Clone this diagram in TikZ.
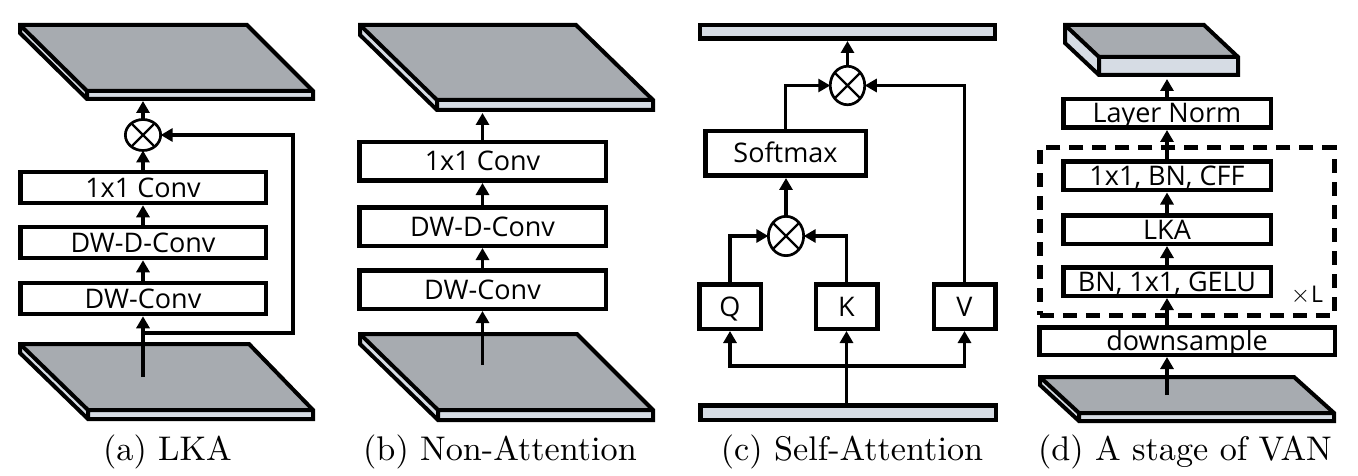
\documentclass[tikz,border=0pt]{standalone}
\usepackage{fontspec}
\usetikzlibrary{arrows.meta,shapes.geometric}
\newfontfamily\boxfont{Open Sans}
\definecolor{topc}{RGB}{167,171,176}
\definecolor{sidec}{RGB}{214,220,228}
\newcommand\slab[7]{%
 \fill[topc] (#1,#5) -- (#2,#5) -- (#3,#6) -- (#4,#6) -- cycle;
 \fill[sidec] (#1,#5) -- (#4,#6) -- (#4,{#6+#7}) -- (#1,{#5+#7}) -- cycle;
 \fill[sidec] (#4,#6) -- (#3,#6) -- (#3,{#6+#7}) -- (#4,{#6+#7}) -- cycle;
 \draw[slabline] (#1,#5) -- (#2,#5) -- (#3,#6) -- (#3,{#6+#7}) -- (#4,{#6+#7}) -- (#1,{#5+#7}) -- cycle;
 \draw[slabline] (#1,#5) -- (#4,#6) -- (#3,#6) (#4,#6) -- (#4,{#6+#7});
}
\tikzset{
 slabline/.style={line width=4pt},
 box/.style={draw, line width=4.5pt, inner sep=0pt, fill=white,
   font=\boxfont\fontsize{27}{30}\selectfont, text height=19pt, text depth=0pt},
 bar/.style={draw, line width=4.5pt, inner sep=0pt, fill=sidec},
 mul/.style={draw, ellipse, line width=2.7pt, inner sep=0pt, outer sep=0pt},
 cross/.style={line width=2.4pt},
 arr/.style={line width=3.8pt, -{Triangle[length=12pt,width=13pt]}},
 dashbox/.style={draw, line width=5.5pt, dash pattern=on 14pt off 9pt, inner sep=0pt},
 captext/.style={anchor=base, inner sep=0pt},
}
\newcommand\crossit[1]{\draw[cross] (#1.45) -- (#1.225) (#1.135) -- (#1.-45);}
\begin{document}
\begin{tikzpicture}[x=1pt,y=-1pt]
\useasboundingbox (0,0) rectangle (1358,476);
% ---------------- (a) LKA
\slab{20}{247}{313}{87}{25}{91}{8}
\slab{20}{249}{313}{88}{344}{410}{9}
\node[box, minimum width=245.5, minimum height=31] (a1) at (143,187.5) {1x1 Conv};
\node[box, minimum width=245.5, minimum height=31] (a2) at (143,242.5) {DW-D-Conv};
\node[box, minimum width=245.5, minimum height=31] (a3) at (143,298.5) {DW-Conv};
\node[mul, minimum width=35.3, minimum height=31] (am) at (143,135) {};
\crossit{am}
\coordinate (ain) at (143,377);
\coordinate (atop) at (143,101);
\coordinate (ask) at (143,333);
\coordinate (askc) at (293,333);
\draw[arr] (ain) -- (a3.south);
\draw[arr] (a3.north) -- (a2.south);
\draw[arr] (a2.north) -- (a1.south);
\draw[arr] (a1.north) -- (am.south);
\draw[arr] (am.north) -- (atop);
\draw[arr] (ask) -- (askc) |- (am.east);
\node[captext] (capa) at (167.5,460) {\scalebox{3.42}{(a) LKA}};
% ---------------- (b) Non-Attention
\slab{360}{576}{653}{437}{25}{100}{10}
\slab{360}{577}{653}{438}{334}{410}{10}
\node[box, minimum width=246.5, minimum height=38.5] (b1) at (482.5,161.5) {1x1 Conv};
\node[box, minimum width=246.5, minimum height=38.5] (b2) at (482.5,226.5) {DW-D-Conv};
\node[box, minimum width=246.5, minimum height=38.5] (b3) at (482.5,289.5) {DW-Conv};
\coordinate (bin) at (482.5,365);
\coordinate (btop) at (482.5,113);
\draw[arr] (bin) -- (b3.south);
\draw[arr] (b3.north) -- (b2.south);
\draw[arr] (b2.north) -- (b1.south);
\draw[arr] (b1.north) -- (btop);
\node[captext] (capb) at (500,460) {\scalebox{3.42}{(b) Non-Attention}};
% ---------------- (c) Self-Attention
\node[bar, minimum width=295, minimum height=13.5] (ctop) at (847.5,32) {};
\node[bar, minimum width=295.5, minimum height=14.5] (cbar) at (848,412.5) {};
\node[box, minimum width=160.5, minimum height=44.5] (sm) at (785.5,153.5) {Softmax};
\node[box, minimum width=61.5, minimum height=44.5] (cq) at (730,306.5) {Q};
\node[box, minimum width=61.5, minimum height=44.5] (ck) at (846.5,306.5) {K};
\node[box, minimum width=61.5, minimum height=44.5] (cv) at (964.5,306.5) {V};
\node[mul, minimum width=34.5, minimum height=38.5] (m2) at (847.5,85.5) {};
\node[mul, minimum width=35.3, minimum height=39.3] (m1) at (786,236) {};
\crossit{m1}
\crossit{m2}
\coordinate (cb) at (846.5,366);
\draw[arr] (ck.south |- cbar.north) -- (ck.south);
\draw[arr] (cb) -| (cq.south);
\draw[arr] (cb) -| (cv.south);
\draw[arr] (cq.north) |- (m1.west);
\draw[arr] (ck.north) |- (m1.east);
\draw[arr] (m1.north) -- (m1.north |- sm.south);
\draw[arr] (sm.north) |- (m2.west);
\draw[arr] (cv.north) |- (m2.east);
\draw[arr] (m2.north) -- (m2.north |- ctop.south);
\node[captext] (capc) at (852,460) {\scalebox{3.42}{(c) Self-Attention}};
% ---------------- (d) A stage of VAN
\slab{1065}{1204}{1238}{1099}{25}{57}{18}
\slab{1040}{1294}{1334}{1079}{377}{413}{8}
\node[dashbox, minimum width=294.5, minimum height=167.5] (dl) at (1187,231.5) {};
\node[box, minimum width=207.5, minimum height=28.5] (ln) at (1167,113.5) {Layer Norm};
\node[box, minimum width=207.5, minimum height=28.5] (cff) at (1167,176) {1x1, BN, CFF};
\node[box, minimum width=207.5, minimum height=28.5] (lka) at (1167,229.5) {LKA};
\node[box, minimum width=207.5, minimum height=28.5] (bn) at (1167,281.5) {BN, 1x1, GELU};
\node[box, minimum width=295.5, minimum height=27.5] (ds) at (1187,341) {downsample};
\node[inner sep=0pt, font=\boxfont\fontsize{23}{28}\selectfont] (xl) at (1307,295) {$\times$\kern1pt L};
\coordinate (din) at (1167,395);
\coordinate (dtop) at (1167,79);
\draw[arr] (din) -- (din |- ds.south);
\draw[arr] (din |- ds.north) -- (bn.south);
\draw[arr] (bn.north) -- (lka.south);
\draw[arr] (lka.north) -- (cff.south);
\draw[arr] (cff.north) -- (ln.south);
\draw[arr] (ln.north) -- (dtop);
\node[captext] (capd) at (1185,460) {\scalebox{3.42}{(d) A stage of VAN}};
\end{tikzpicture}
\end{document}
